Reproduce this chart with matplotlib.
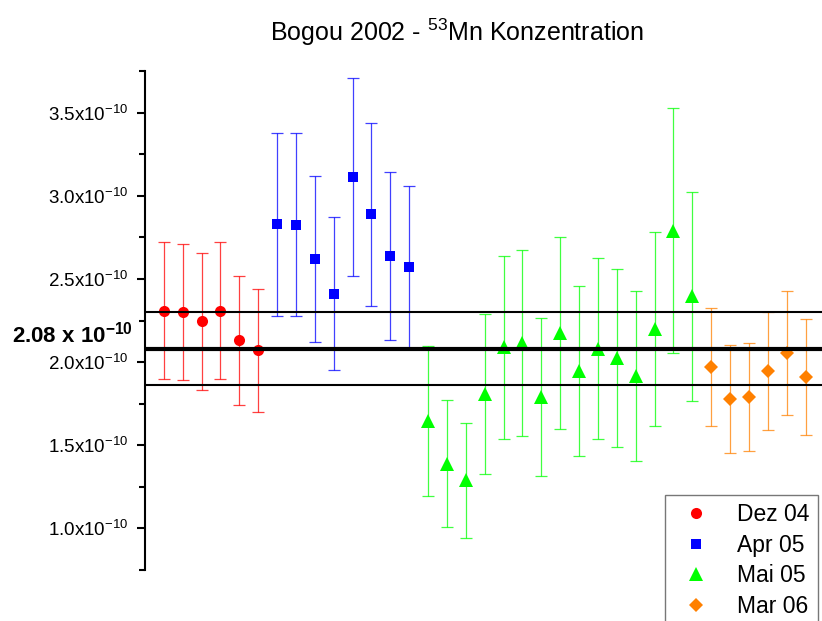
import numpy as np
import matplotlib
matplotlib.use("Agg")
import matplotlib.pyplot as plt
import matplotlib.transforms as mtransforms
from matplotlib.lines import Line2D
from matplotlib.ticker import FixedLocator, MultipleLocator, FuncFormatter
from matplotlib.colors import to_rgba

plt.rcParams['font.family'] = 'Liberation Sans'
plt.rcParams['mathtext.fontset'] = 'custom'
plt.rcParams['mathtext.rm'] = 'Liberation Sans'
plt.rcParams['mathtext.it'] = 'Liberation Sans:italic'
plt.rcParams['mathtext.bf'] = 'Liberation Sans:bold'

# 53Mn concentrations in units of 1e-10, one array per measurement campaign
dez_val = [2.31, 2.30, 2.245, 2.31, 2.13, 2.07]
dez_err = [0.41, 0.41, 0.41, 0.41, 0.39, 0.37]

apr_val = [2.83, 2.825, 2.62, 2.41, 3.115, 2.89, 2.635, 2.57]
apr_err = [0.55, 0.55, 0.50, 0.46, 0.595, 0.55, 0.505, 0.49]

mai_val = [1.645, 1.39, 1.29, 1.81, 2.09, 2.115, 1.79, 2.175, 1.945,
           2.08, 2.025, 1.915, 2.20, 2.79, 2.395]
mai_err = [0.45, 0.38, 0.345, 0.48, 0.55, 0.56, 0.475, 0.575, 0.51,
           0.545, 0.535, 0.51, 0.585, 0.735, 0.63]

mar_val = [1.97, 1.78, 1.79, 1.945, 2.055, 1.91]
mar_err = [0.355, 0.325, 0.325, 0.355, 0.375, 0.35]

labels = ['Dez 04', 'Apr 05', 'Mai 05', 'Mar 06']

# weighted mean and its band
mean_val = 2.08
band_hi = 2.30
band_lo = 1.865

groups = [
    (labels[0], dez_val, dez_err, '#ff0000', 'o', 8),
    (labels[1], apr_val, apr_err, '#0000ff', 's', 7),
    (labels[2], mai_val, mai_err, '#00ff00', '^', 9.5),
    (labels[3], mar_val, mar_err, '#ff8000', 'D', 7),
]

fig = plt.figure(figsize=(8.22, 6.21), dpi=100)
ax = fig.add_axes([145 / 822, 51 / 621, 1 - 145 / 822, 499 / 621])

handles = []
start = 1
for label, vals, errs, color, marker, ms in groups:
    x = np.arange(start, start + len(vals))
    ax.errorbar(x, vals, yerr=errs, fmt='none', ecolor=to_rgba(color, 0.75),
                elinewidth=0.9, capsize=4, capthick=0.9, zorder=3)
    ax.plot(x, vals, ls='none', marker=marker, color=color, ms=ms, mew=0,
            zorder=3.5)
    handles.append(Line2D([], [], ls='none', marker=marker, color=color,
                          ms=ms, mew=0, label=label))
    start += len(vals)

ax.axhline(band_hi, color='black', lw=1.5, zorder=4)
ax.axhline(mean_val, color='black', lw=3.0, zorder=4)
ax.axhline(band_lo, color='black', lw=1.5, zorder=4)

ax.set_xlim(0, 35.87)
ax.set_ylim(0.75, 3.75)

ax.yaxis.set_major_locator(FixedLocator([1.0, 1.5, 2.0, 2.5, 3.0, 3.5]))
ax.yaxis.set_minor_locator(MultipleLocator(0.25))
ax.yaxis.set_major_formatter(FuncFormatter(lambda v, p: f"{v:.1f}x10$^{{-10}}$"))
ax.tick_params(axis='y', which='major', direction='out', length=6, width=1.5,
               labelsize=13.5, pad=6)
ax.tick_params(axis='y', which='minor', direction='out', length=4, width=1.5)
ax.xaxis.set_visible(False)

for side in ['top', 'right', 'bottom']:
    ax.spines[side].set_visible(False)
ax.spines['left'].set_linewidth(1.5)

# label for the mean, left of the axis
trans = mtransforms.blended_transform_factory(fig.transFigure, ax.transData)
ax.text(12 / 822, 2.12, r"2.08 x 10$^{\mathbf{-10}}$", transform=trans,
        ha='left', va='baseline', fontsize=16, fontweight='bold',
        clip_on=False)

fig.text(456.5 / 822, (621 - 40.7) / 621, "Bogou 2002 - $^{53}$Mn Konzentration",
         ha='center', va='baseline', fontsize=18)

leg = ax.legend(handles=handles, loc='upper left',
                bbox_to_anchor=(665 / 822, 126 / 621),
                bbox_transform=fig.transFigure, borderaxespad=0,
                frameon=True, fancybox=False, fontsize=16.5,
                borderpad=0.35, labelspacing=0.33, handletextpad=0.8)
leg.get_frame().set_edgecolor('#555555')
leg.get_frame().set_linewidth(1.0)

fig.savefig('out.png', dpi=100)
